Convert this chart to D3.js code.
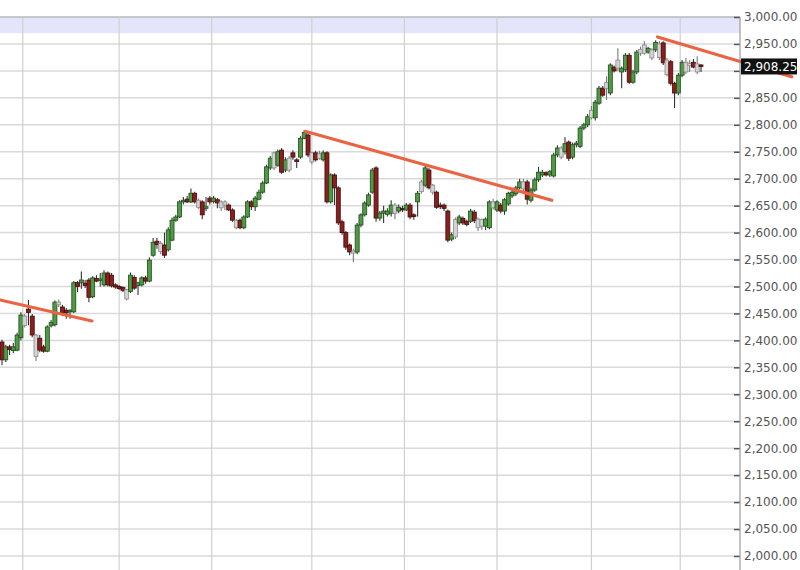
<!DOCTYPE html>
<html><head><meta charset="utf-8">
<script src="https://cdn.jsdelivr.net/npm/d3@7"></script>
<style>html,body{margin:0;padding:0;background:#fff;}svg{display:block;}</style>
</head><body>
<svg id="chart" width="800" height="570"></svg>
<script>
// ---- data ----
const opens = [
2397,2364,2388,2381,2382,2405,2445,2458,2445,2410,
2404,2388,2380,2427,2429,2471,2462,2456,2453,2453,
2507,2507,2506,2512,2481,2515,2512,2503,2525,2521,
2503,2500,2498,2494,2491,2517,2502,2503,2516,2510,
2558,2584,2580,2577,2568,2586,2623,2629,2657,2662,
2657,2673,2660,2657,2645,2664,2658,2661,2657,2657,
2651,2642,2623,2623,2609,2629,2657,2648,2662,2675,
2692,2720,2748,2725,2753,2716,2738,2748,2735,2740,
2775,2781,2748,2748,2746,2735,2748,2657,2707,2683,
2620,2600,2577,2566,2564,2614,2633,2651,2675,2720,
2627,2636,2634,2636,2651,2640,2645,2642,2651,2633,
2657,2676,2688,2716,2688,2675,2651,2651,2640,2588,
2624,2618,2626,2621,2621,2638,2625,2624,2612,2609,
2657,2642,2651,2640,2653,2668,2672,2683,2694,2694,
2660,2679,2698,2707,2711,2707,2705,2744,2757,2750,
2768,2740,2763,2760,2794,2800,2827,2813,2840,2868,
2878,2859,2907,2920,2898,2902,2929,2879,2898,2940,
2948,2935,2939,2939,2950,2952,2920,2917,2877,2859,
2892,2916,2914,2916,2913,2911];
const highs = [
2401,2392,2392,2395,2414,2452,2449,2475,2449,2412,
2410,2392,2428,2438,2474,2476,2466,2460,2458,2510,
2510,2528,2512,2516,2519,2521,2525,2530,2528,2525,
2506,2503,2500,2496,2526,2521,2509,2519,2520,2554,
2590,2590,2584,2600,2610,2628,2633,2660,2666,2668,
2682,2676,2663,2660,2666,2668,2668,2664,2660,2660,
2654,2645,2625,2626,2632,2660,2660,2668,2680,2696,
2726,2742,2750,2754,2757,2740,2742,2753,2738,2779,
2790,2785,2750,2752,2752,2753,2751,2710,2710,2686,
2624,2603,2580,2570,2618,2636,2658,2674,2720,2723,
2640,2650,2645,2660,2655,2652,2650,2655,2655,2636,
2677,2698,2724,2720,2690,2678,2656,2654,2643,2600,
2628,2633,2630,2624,2644,2642,2628,2626,2628,2660,
2663,2660,2655,2664,2676,2680,2687,2700,2700,2698,
2683,2702,2722,2716,2714,2716,2748,2762,2760,2777,
2771,2767,2770,2798,2804,2820,2835,2846,2872,2872,
2890,2914,2910,2942,2908,2933,2933,2902,2939,2945,
2955,2945,2942,2957,2955,2955,2924,2920,2880,2896,
2920,2924,2920,2922,2927,2913];
const lows = [
2354,2360,2373,2376,2380,2400,2424,2428,2406,2362,
2378,2377,2378,2424,2426,2462,2445,2440,2440,2451,
2490,2496,2497,2471,2478,2508,2500,2500,2500,2498,
2496,2494,2490,2474,2488,2494,2484,2500,2505,2508,
2555,2570,2560,2553,2565,2584,2620,2627,2652,2655,
2655,2654,2644,2625,2640,2652,2654,2645,2640,2642,
2640,2620,2606,2606,2606,2627,2642,2640,2660,2672,
2690,2716,2716,2722,2709,2712,2712,2735,2720,2737,
2773,2740,2727,2732,2735,2732,2654,2654,2651,2614,
2596,2568,2558,2545,2560,2610,2630,2648,2672,2620,
2622,2618,2630,2630,2625,2636,2638,2640,2625,2624,
2630,2672,2684,2680,2670,2644,2644,2640,2582,2584,
2588,2614,2614,2612,2618,2618,2603,2605,2605,2606,
2643,2638,2636,2633,2650,2664,2668,2680,2676,2652,
2656,2676,2694,2703,2704,2703,2702,2740,2736,2745,
2733,2736,2758,2757,2790,2796,2810,2808,2837,2852,
2846,2855,2897,2900,2868,2898,2876,2876,2894,2928,
2930,2932,2920,2935,2920,2911,2890,2873,2831,2855,
2888,2894,2898,2905,2894,2898];
const closes = [
2364,2388,2383,2388,2410,2447,2428,2452,2410,2370,
2382,2380,2425,2433,2471,2466,2451,2451,2456,2507,
2500,2512,2502,2480,2516,2510,2514,2525,2503,2501,
2499,2496,2493,2477,2521,2497,2507,2516,2510,2549,
2582,2578,2565,2558,2605,2623,2629,2657,2660,2657,
2673,2657,2647,2633,2648,2657,2664,2655,2646,2651,
2642,2623,2609,2609,2629,2657,2648,2664,2675,2692,
2722,2738,2720,2750,2712,2735,2716,2740,2732,2775,
2786,2744,2731,2735,2738,2748,2657,2707,2683,2618,
2600,2573,2564,2562,2614,2633,2655,2670,2716,2627,
2636,2640,2640,2651,2636,2647,2643,2651,2629,2630,
2673,2694,2720,2683,2675,2647,2648,2645,2586,2596,
2592,2629,2618,2615,2640,2622,2609,2612,2625,2657,
2646,2657,2640,2661,2673,2675,2683,2694,2681,2662,
2679,2698,2712,2712,2707,2713,2744,2757,2740,2765,
2738,2763,2766,2794,2800,2815,2813,2842,2868,2855,
2867,2911,2900,2905,2905,2929,2879,2898,2935,2933,
2933,2942,2924,2953,2925,2915,2893,2877,2859,2892,
2916,2898,2910,2907,2898,2908.25];
// candles printed hollow/grey in the source (0-based)
const hollowIdx = [6,9,15,33,42,52,58,59,62,72,76,82,84,93,104,111,114,120,126,127,130,138,148,156,160,163,169,170,172,174,176,181,182,184];
// vertical grid (period separators) at candle positions
const periodBreaks = [5.5, 31, 55.5, 82, 106.5, 131, 156, 179.5];
// y ticks
const yTicks = [2000,2050,2100,2150,2200,2250,2300,2350,2400,2450,2500,2550,2600,2650,2700,2750,2800,2850,2900,2950,3000];
// trend lines: [startIndex, startPrice, endIndex, endPrice]
const trendLines = [
  [-0.5, 2475, 23.8, 2436],
  [80.2, 2788, 145.5, 2660],
  [173.5, 2963, 209, 2889]
];
const lastPrice = 2908.25;
const bandTop = 3000, bandBottom = 2970;

// ---- drawing ----
const svg = d3.select("#chart");
const N = closes.length;
const x = d3.scaleLinear().domain([0, N - 1]).range([2, 701]);
const y = d3.scaleLinear().domain([2000, 3000]).range([556, 17]);
const plotRight = 740;

// lavender band
svg.append("rect").attr("x", 0).attr("width", plotRight)
  .attr("y", y(bandTop)).attr("height", y(bandBottom) - y(bandTop))
  .attr("fill", "#e4e4fb");

// horizontal grid
svg.append("g").selectAll("line").data(yTicks.filter(d => d < 3000)).join("line")
  .attr("x1", 0).attr("x2", plotRight)
  .attr("y1", d => y(d)).attr("y2", d => y(d))
  .attr("stroke", "#dadada").attr("stroke-width", 1.5);
// top border
svg.append("line").attr("x1", 0).attr("x2", plotRight)
  .attr("y1", y(3000)).attr("y2", y(3000))
  .attr("stroke", "#b8b8b8").attr("stroke-width", 1.5);

// vertical grid
svg.append("g").selectAll("line").data(periodBreaks).join("line")
  .attr("x1", d => x(d)).attr("x2", d => x(d))
  .attr("y1", y(3000)).attr("y2", 570)
  .attr("stroke", "#d0d0d0").attr("stroke-width", 1.2);

// right axis
const boxH = 16;
const axis = d3.axisRight(y).tickValues(yTicks).tickSize(0)
  .tickFormat(d => Math.abs(y(d) - y(lastPrice)) < boxH ? "" : d3.format(",.2f")(d));
const ag = svg.append("g").attr("transform", `translate(${plotRight},0)`).call(axis);
ag.select(".domain").remove();
ag.append("line").attr("x1", 0).attr("x2", 0).attr("y1", y(3000)).attr("y2", 570)
  .attr("stroke", "#9a9a9a").attr("stroke-width", 1.2);
ag.selectAll(".tick").append("line").attr("x1", -6).attr("x2", 0)
  .attr("stroke", "#555").attr("stroke-width", 1.5);
ag.selectAll(".tick text").attr("x", 4)
  .attr("font-family", "DejaVu Sans, sans-serif").attr("font-size", 12)
  .attr("fill", "#555");

// candles
const candles = d3.range(N).map(i => ({i, o: opens[i], h: highs[i], l: lows[i], c: closes[i], hollow: hollowIdx.includes(i)}));
const bw = 4;
const cg = svg.append("g");
cg.selectAll("line").data(candles).join("line")
  .attr("x1", d => x(d.i)).attr("x2", d => x(d.i))
  .attr("y1", d => y(d.h)).attr("y2", d => y(d.l))
  .attr("stroke", d => d.hollow ? "#7a7a7a" : "#333").attr("stroke-width", 1.1);
cg.selectAll("rect").data(candles).join("rect")
  .attr("x", d => x(d.i) - bw / 2).attr("width", bw)
  .attr("y", d => y(Math.max(d.o, d.c)))
  .attr("height", d => Math.max(1.5, Math.abs(y(d.o) - y(d.c))))
  .attr("fill", d => d.hollow ? "#d4d4d4" : (d.c >= d.o ? "#4f9a44" : "#8e1d1d"))
  .attr("stroke", d => d.hollow ? "#8a8a8a" : (d.c >= d.o ? "#1f4a1a" : "#3a0c0c"))
  .attr("stroke-width", 0.8);

// trend lines
svg.append("g").selectAll("line").data(trendLines).join("line")
  .attr("x1", d => x(d[0])).attr("y1", d => y(d[1]))
  .attr("x2", d => x(d[2])).attr("y2", d => y(d[3]))
  .attr("stroke", "#ea6443").attr("stroke-width", 3.2).attr("stroke-linecap", "round");

// last price marker
const lp = svg.append("g").attr("transform", `translate(${plotRight},${y(lastPrice)})`);
lp.append("rect").attr("x", 1).attr("y", -boxH / 2).attr("width", 56).attr("height", boxH).attr("fill", "#111");
lp.append("text").attr("x", 4).attr("dy", "0.35em")
  .attr("font-family", "DejaVu Sans, sans-serif").attr("font-size", 12)
  .attr("fill", "#fff").text(d3.format(",.2f")(lastPrice));
</script>
</body></html>
